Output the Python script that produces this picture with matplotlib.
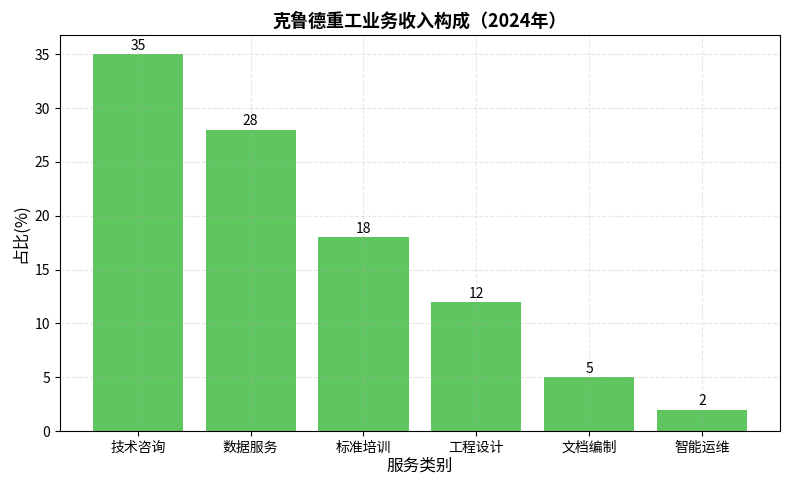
import matplotlib
matplotlib.use("Agg")
import matplotlib.pyplot as plt

plt.rcParams['font.family'] = ['Noto Sans CJK SC', 'DejaVu Sans']
plt.rcParams['axes.unicode_minus'] = False

# 服务类别及占比
categories = ["技术咨询", "数据服务", "标准培训", "工程设计", "文档编制", "智能运维"]
shares = [35, 28, 18, 12, 5, 2]

fig, ax = plt.subplots(figsize=(7.9, 4.9), dpi=100)
bars = ax.bar(categories, shares, color="#5fc55f", width=0.8)
ax.bar_label(bars, padding=1, fontsize=10)

ax.set_title("克鲁德重工业务收入构成（2024年）", fontsize=13, fontweight="bold")
ax.set_xlabel("服务类别", fontsize=12, labelpad=2)
ax.set_ylabel("占比(%)", fontsize=12)
ax.grid(True, linestyle="--", alpha=0.3, zorder=3)

fig.subplots_adjust(left=0.076, right=0.987, top=0.928, bottom=0.12)
fig.savefig("out.png", dpi=100)
